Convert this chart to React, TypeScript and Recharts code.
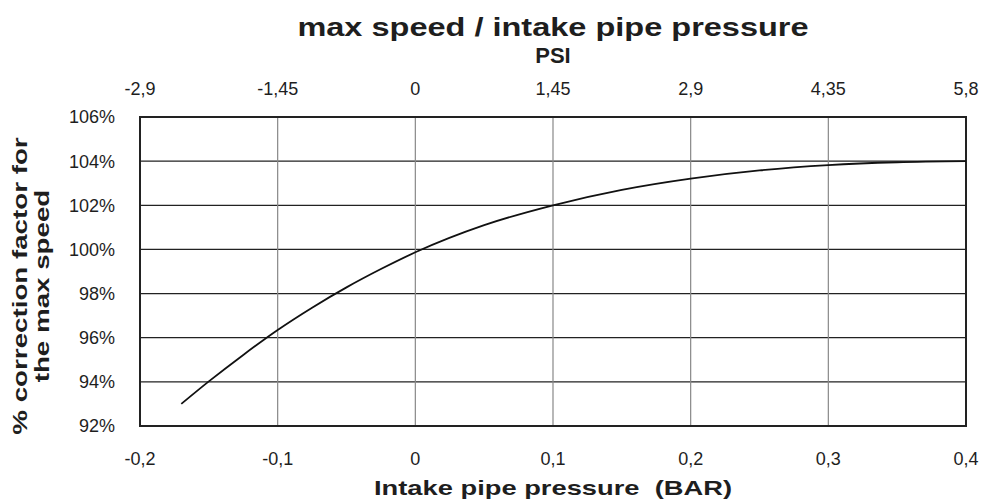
import React from 'react';
import {
  LineChart,
  Line,
  XAxis,
  YAxis,
  CartesianGrid,
  ReferenceArea,
} from 'recharts';

// intake pipe pressure (bar) vs correction factor for max speed (%)
const pressureBar = [-0.17, -0.15, -0.125, -0.1, -0.075, -0.05, -0.025, 0, 0.05, 0.1, 0.15, 0.2, 0.25, 0.3, 0.35, 0.4];
const correctionPct = [93.0, 94.02, 95.22, 96.35, 97.36, 98.28, 99.11, 99.87, 101.1, 102.0, 102.7, 103.21, 103.58, 103.82, 103.95, 104.0];

const barTicks = [-0.2, -0.1, 0, 0.1, 0.2, 0.3, 0.4];
const pctTicks = [92, 94, 96, 98, 100, 102, 104, 106];
const PSI_PER_BAR = 14.5;

const FONT = '"Liberation Sans", Arial, sans-serif';
const INK = '#1e1e1e';

const comma = (v: number) => String(v).replace('.', ',');
const toPsi = (v: number) => comma(+(v * PSI_PER_BAR).toFixed(2));

export default function App() {
  const data = pressureBar.map((p, i) => ({ p, pct: correctionPct[i] }));
  const tick = { fontSize: 18, fill: INK, fontFamily: FONT };

  return (
    <div style={{ position: 'absolute', left: 0, top: 0, width: 984, height: 499, background: '#fff', fontFamily: FONT }}>
      <div
        style={{
          position: 'absolute', left: 553, top: 27, transform: 'translate(-50%, -50%) scaleX(1.25)',
          fontSize: 26, fontWeight: 700, color: INK, whiteSpace: 'nowrap', lineHeight: '30px',
        }}
      >
        max speed / intake pipe pressure
      </div>
      <div
        style={{
          position: 'absolute', left: 553, top: 56, transform: 'translate(-50%, -50%)',
          fontSize: 22, fontWeight: 700, color: INK, whiteSpace: 'nowrap', lineHeight: '24px',
        }}
      >
        PSI
      </div>
      <div
        style={{
          position: 'absolute', left: 553, top: 488, transform: 'translate(-50%, -50%) scaleX(1.3)',
          fontSize: 21, fontWeight: 700, color: INK, whiteSpace: 'pre', lineHeight: '22px',
        }}
      >
        {'Intake pipe pressure  (BAR)'}
      </div>
      <div
        style={{
          position: 'absolute', left: 31, top: 286, width: 320, textAlign: 'center',
          transform: 'translate(-50%, -50%) rotate(-90deg) scaleX(1.32)',
          fontSize: 21, fontWeight: 700, color: INK, lineHeight: '22px',
        }}
      >
        % correction factor for
        <br />
        the max speed
      </div>

      <LineChart
        width={984}
        height={499}
        data={data}
        margin={{ top: 85, right: 18, bottom: 40, left: 80 }}
      >
        <CartesianGrid horizontal vertical={false} stroke="#222" strokeWidth={1.2} />
        <CartesianGrid horizontal={false} vertical stroke="#888" strokeWidth={1.2} />
        <XAxis
          dataKey="p"
          type="number"
          domain={[-0.2, 0.4]}
          ticks={barTicks}
          tickFormatter={comma}
          axisLine={false}
          tickLine={false}
          tickSize={0}
          tickMargin={26}
          height={33}
          tick={tick}
          interval={0}
        />
        <XAxis
          xAxisId="psi"
          dataKey="p"
          orientation="top"
          type="number"
          domain={[-0.2, 0.4]}
          ticks={barTicks}
          tickFormatter={toPsi}
          axisLine={false}
          tickLine={false}
          tickSize={0}
          tickMargin={22}
          height={32}
          tick={tick}
          interval={0}
        />
        <YAxis
          type="number"
          domain={[92, 106]}
          ticks={pctTicks}
          tickFormatter={(v: number) => `${v}%`}
          axisLine={false}
          tickLine={false}
          tickSize={0}
          tickMargin={25}
          width={60}
          tick={tick}
          interval={0}
        />
        <ReferenceArea
          x1={-0.2}
          x2={0.4}
          y1={92}
          y2={106}
          fill="none"
          stroke="#222"
          strokeWidth={2}
          ifOverflow="visible"
        />
        <Line
          xAxisId="psi"
          type="monotone"
          dataKey="pct"
          stroke="none"
          dot={false}
          activeDot={false}
          isAnimationActive={false}
        />
        <Line
          type="monotone"
          dataKey="pct"
          stroke="#111"
          strokeWidth={1.8}
          dot={false}
          activeDot={false}
          isAnimationActive={false}
        />
      </LineChart>
    </div>
  );
}
